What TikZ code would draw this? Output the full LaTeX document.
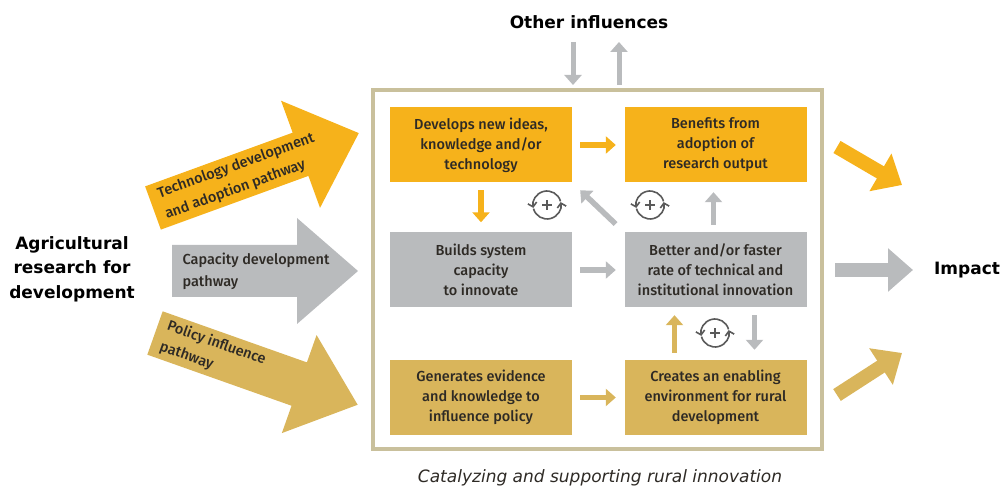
\documentclass[tikz,border=0pt]{standalone}
\usepackage{fontspec}
\setmainfont{Fira Sans}
\newfontfamily\boxfont{Fira Sans}[UprightFont=* Medium]
\newfontfamily\vfont{DejaVu Sans}
\usetikzlibrary{arrows.meta}

\definecolor{techcol}{HTML}{F6B21B}
\definecolor{capcol}{HTML}{B9BBBD}
\definecolor{polcol}{HTML}{D9B55B}
\definecolor{framecol}{HTML}{C9C09C}
\definecolor{txtcol}{HTML}{2E2A25}
\definecolor{cyccol}{HTML}{5A5A5A}

\tikzset{
  cyc/.pic={
    \draw[cyccol, line width=1.6pt, -{Straight Barb[length=4pt,width=9pt]}] (15:14) arc (15:192:14);
    \draw[cyccol, line width=1.6pt, -{Straight Barb[length=4pt,width=9pt]}] (195:14) arc (195:372:14);
    \draw[cyccol, line width=1.4pt] (-5,0) -- (5,0) (0,-5) -- (0,5);
  }
}

\begin{document}
\begin{tikzpicture}[x=1pt, y=1pt,
  box/.style={minimum width=182pt, minimum height=75pt, inner sep=0pt, align=center, text=txtcol, font=\boxfont\fontsize{14.5}{20}\selectfont},
  lbl/.style={font=\vfont\bfseries\fontsize{17}{24.5}\selectfont, align=center},
  pathtext/.style={anchor=west, align=left, text=txtcol, transform shape, font=\boxfont\fontsize{14.5}{22}\selectfont},
  small/.style={line width=5.5pt, -{Triangle[width=17pt,length=10pt]}},
  wide/.style={line width=14pt, -{Triangle[width=42pt,length=25pt]}}]

\useasboundingbox (0,0) rectangle (1004,489);

% frame
\draw[framecol, line width=4.5pt] (373,40) rectangle (822,399);

% boxes
\node[box, fill=techcol] (develops) at (481,344) {Develops new ideas,\\knowledge and/or\\technology};
\node[box, fill=techcol] (benefits) at (715.5,344) {Benefits from\\adoption of\\research output};
\node[box, fill=capcol] (builds) at (481,219) {Builds system\\capacity\\to innovate};
\node[box, fill=capcol] (better) at (715.5,219) {Better and/or faster\\rate of technical and\\institutional innovation};
\node[box, fill=polcol] (generates) at (481,91.5) {Generates evidence\\and knowledge to\\influence policy};
\node[box, fill=polcol] (creates) at (715.5,91.5) {Creates an enabling\\environment for rural\\development};

% arrows inside
\draw[small, techcol, shorten <=8pt, shorten >=8.5pt] (develops) -- (benefits);
\draw[small, techcol, shorten <=7.5pt, shorten >=10pt] (develops) -- (builds);
\draw[small, capcol, shorten <=8pt, shorten >=8.5pt] (builds) -- (better);
\draw[small, capcol, shorten <=12pt, shorten >=11pt] (better.north west) -- (develops.south east);
\draw[small, capcol, shorten <=7.5pt, shorten >=9.5pt] ([xshift=-2pt]better.north) -- ([xshift=-2pt]benefits.south);
\draw[small, polcol, shorten <=8pt, shorten >=8.5pt] (generates) -- (creates);
\draw[small, polcol, shorten <=7pt, shorten >=7.5pt] ([xshift=-41pt]creates.north) -- ([xshift=-41pt]better.south);
\draw[small, capcol, shorten <=7.5pt, shorten >=10pt] ([xshift=39pt]better.south) -- ([xshift=39pt]creates.north);

\pic at (547,284) {cyc};
\pic at (650,284) {cyc};
\pic at (715,156) {cyc};

% other influences
\node[lbl] (other) at (589,467) {Other influences};
\coordinate (inA) at (573,447);
\coordinate (inB) at (573,404);
\coordinate (outA) at (619,404);
\coordinate (outB) at (619,447);
\draw[small, capcol, line width=5pt] (inA) -- (inB);
\draw[small, capcol, line width=5pt] (outA) -- (outB);

% pathways
\node[lbl] (agri) at (72,220) {Agricultural\\research for\\development};
\begin{scope}[shift={(153,281)}, rotate=20]
  \fill[techcol] (0,-23) -- (157,-23) -- (157,-57) -- (219,0) -- (157,57) -- (157,23) -- (0,23) -- cycle;
  \node[pathtext] (techlbl) at (6,0) {Technology development\\and adoption pathway};
\end{scope}
\begin{scope}[shift={(172,218)}]
  \fill[capcol] (0,-26) -- (125,-26) -- (125,-53) -- (186,0) -- (125,53) -- (125,26) -- (0,26) -- cycle;
  \node[pathtext] (caplbl) at (7,0) {Capacity development\\pathway};
\end{scope}
\begin{scope}[shift={(155,156)}, rotate=-19.5]
  \fill[polcol] (0,-23) -- (153,-23) -- (153,-52) -- (215,0) -- (153,52) -- (153,23) -- (0,23) -- cycle;
  \node[pathtext] (pollbl) at (6,0) {Policy influence\\pathway};
\end{scope}

% impact
\node[lbl] (impact) at (967,219) {Impact};
\coordinate (t1) at (837,342);
\coordinate (t2) at (902,304);
\coordinate (c1) at (835,219);
\coordinate (c2) at (913,219);
\coordinate (p1) at (837,94);
\coordinate (p2) at (902,136);
\draw[wide, techcol] (t1) -- (t2);
\draw[wide, capcol] (c1) -- (c2);
\draw[wide, polcol] (p1) -- (p2);

\node[font=\vfont\itshape\fontsize{17}{20}\selectfont, text=txtcol] (caption) at (600,11) {Catalyzing and supporting rural innovation};
\end{tikzpicture}
\end{document}
